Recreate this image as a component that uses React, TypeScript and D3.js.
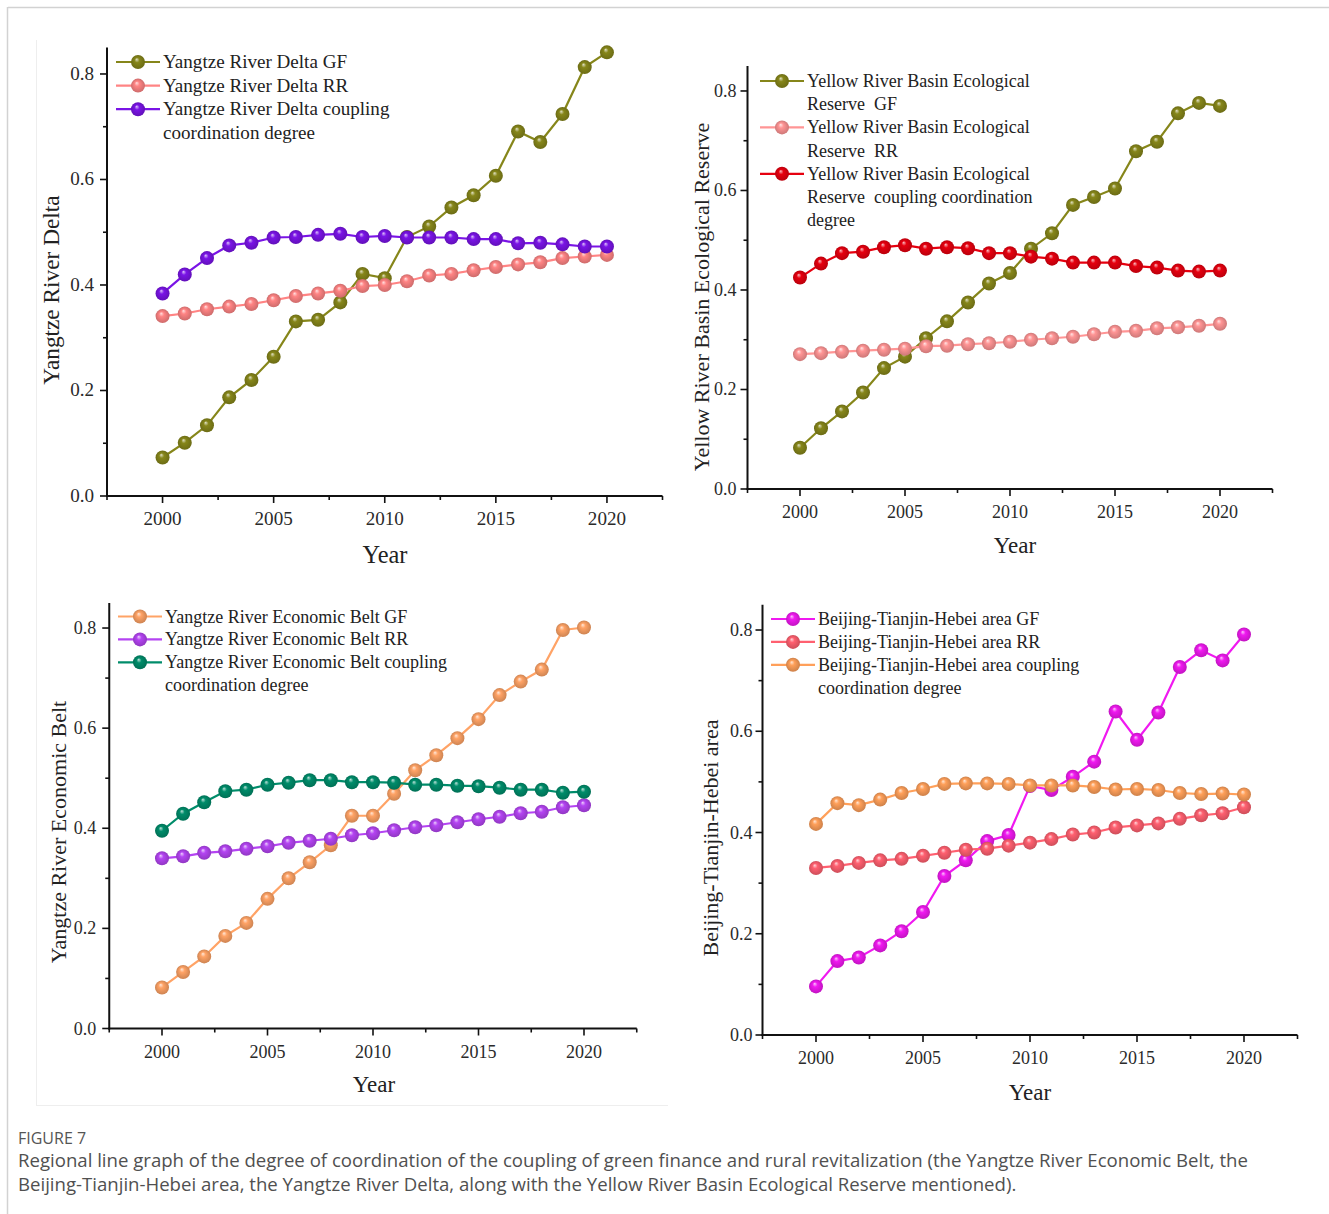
import React from 'react';
import * as d3 from 'd3';

// ---------- DATA ----------
const years = [2000, 2001, 2002, 2003, 2004, 2005, 2006, 2007, 2008, 2009, 2010, 2011, 2012, 2013, 2014, 2015, 2016, 2017, 2018, 2019, 2020];
const xTickValues = [2000, 2005, 2010, 2015, 2020];
const xTickLabels = ['2000', '2005', '2010', '2015', '2020'];
const xMinorValues = [1997.5, 2002.5, 2007.5, 2012.5, 2017.5, 2022.5];
const yTickValues = [0, 0.2, 0.4, 0.6, 0.8];
const yTickLabels = ['0.0', '0.2', '0.4', '0.6', '0.8'];
const yMinorValues = [0.1, 0.3, 0.5, 0.7];

// Yangtze River Delta
const yrdGF = [0.073, 0.101, 0.134, 0.187, 0.220, 0.264, 0.331, 0.334, 0.367, 0.421, 0.413, 0.491, 0.511, 0.547, 0.570, 0.607, 0.691, 0.671, 0.724, 0.813, 0.841];
const yrdRR = [0.341, 0.346, 0.354, 0.359, 0.364, 0.371, 0.379, 0.384, 0.389, 0.398, 0.400, 0.407, 0.418, 0.421, 0.428, 0.434, 0.439, 0.443, 0.451, 0.454, 0.457];
const yrdCCD = [0.384, 0.420, 0.451, 0.475, 0.480, 0.490, 0.491, 0.495, 0.497, 0.491, 0.493, 0.490, 0.490, 0.490, 0.487, 0.487, 0.479, 0.480, 0.477, 0.473, 0.473];

// Yellow River Basin Ecological Reserve
const yrbGF = [0.083, 0.122, 0.156, 0.194, 0.243, 0.266, 0.303, 0.337, 0.375, 0.413, 0.434, 0.483, 0.514, 0.571, 0.587, 0.604, 0.679, 0.698, 0.755, 0.776, 0.770];
const yrbRR = [0.271, 0.273, 0.276, 0.278, 0.280, 0.282, 0.287, 0.288, 0.291, 0.293, 0.296, 0.300, 0.303, 0.306, 0.311, 0.316, 0.318, 0.323, 0.325, 0.328, 0.332];
const yrbCCD = [0.425, 0.453, 0.474, 0.477, 0.486, 0.490, 0.483, 0.486, 0.484, 0.474, 0.474, 0.467, 0.463, 0.455, 0.455, 0.455, 0.448, 0.445, 0.439, 0.437, 0.439];

// Yangtze River Economic Belt
const yebGF = [0.082, 0.113, 0.144, 0.185, 0.211, 0.259, 0.300, 0.332, 0.366, 0.425, 0.425, 0.469, 0.516, 0.546, 0.580, 0.618, 0.666, 0.693, 0.717, 0.796, 0.801];
const yebRR = [0.340, 0.344, 0.351, 0.354, 0.359, 0.364, 0.371, 0.375, 0.379, 0.386, 0.390, 0.396, 0.402, 0.406, 0.412, 0.418, 0.423, 0.430, 0.433, 0.442, 0.446];
const yebCCD = [0.395, 0.429, 0.452, 0.474, 0.477, 0.487, 0.491, 0.496, 0.496, 0.492, 0.492, 0.491, 0.487, 0.487, 0.485, 0.484, 0.481, 0.477, 0.477, 0.471, 0.473];

// Beijing-Tianjin-Hebei area
const bthGF = [0.096, 0.146, 0.153, 0.177, 0.205, 0.243, 0.314, 0.345, 0.383, 0.395, 0.492, 0.484, 0.510, 0.540, 0.639, 0.583, 0.637, 0.727, 0.760, 0.740, 0.791];
const bthRR = [0.330, 0.334, 0.340, 0.345, 0.348, 0.354, 0.360, 0.366, 0.368, 0.374, 0.380, 0.387, 0.396, 0.400, 0.410, 0.414, 0.418, 0.427, 0.434, 0.438, 0.450];
const bthCCD = [0.417, 0.458, 0.454, 0.465, 0.478, 0.486, 0.496, 0.497, 0.497, 0.496, 0.493, 0.493, 0.493, 0.490, 0.485, 0.486, 0.484, 0.478, 0.476, 0.477, 0.475];

const yrdLabels = [['Yangtze River Delta GF'], ['Yangtze River Delta RR'], ['Yangtze River Delta coupling', 'coordination degree']];
const yrbLabels = [['Yellow River Basin Ecological', 'Reserve  GF'], ['Yellow River Basin Ecological', 'Reserve  RR'], ['Yellow River Basin Ecological', 'Reserve  coupling coordination', 'degree']];
const yebLabels = [['Yangtze River Economic Belt GF'], ['Yangtze River Economic Belt RR'], ['Yangtze River Economic Belt coupling', 'coordination degree']];
const bthLabels = [['Beijing-Tianjin-Hebei area GF'], ['Beijing-Tianjin-Hebei area RR'], ['Beijing-Tianjin-Hebei area coupling', 'coordination degree']];

const captionTitle = 'FIGURE 7';
const captionLines = [
  'Regional line graph of the degree of coordination of the coupling of green finance and rural revitalization (the Yangtze River Economic Belt, the',
  'Beijing-Tianjin-Hebei area, the Yangtze River Delta, along with the Yellow River Basin Ecological Reserve mentioned).',
];

// ---------- STYLE ----------
const SERIF = '"Liberation Serif", "Times New Roman", serif';
const SANS = '"Open Sans", "Noto Sans", sans-serif';
const TEXT = '#222';

type Series = { values: number[]; color: string; id: string };
type Layout = {
  left: number; right: number; top: number; bottom: number;
  fs: number; tickGap: number;
  yTitle: string; yTitleX: number; yTitleY: number;
  xTitleX: number; xTitleY: number;
  legX: number; legY: number; legStep: number;
};

function gradId(id: string) { return 'g-' + id; }

function Sphere({ cx, cy, id }: { cx: number; cy: number; id: string }) {
  return <circle cx={cx} cy={cy} r={7} fill={`url(#${gradId(id)})`} />;
}

function Panel({ layout, series, labels }: { layout: Layout; series: Series[]; labels: string[][] }) {
  const x = d3.scaleLinear().domain([1997.5, 2022.5]).range([layout.left, layout.right]);
  const y = d3.scaleLinear().domain([0, 0.85]).range([layout.bottom, layout.top]);
  const line = d3.line<number>().x((_, i) => x(years[i])).y(d => y(d));
  const fs = layout.fs;

  let row = 0;
  const legendItems = labels.map((lines, k) => {
    const cy = layout.legY + row * layout.legStep;
    row += lines.length;
    const s = series[k];
    return (
      <g key={k}>
        <line x1={layout.legX} x2={layout.legX + 44} y1={cy} y2={cy} stroke={s.color} strokeWidth={2.2} />
        <Sphere cx={layout.legX + 22} cy={cy} id={s.id} />
        {lines.map((t, j) => (
          <text key={j} x={layout.legX + 47} y={cy + j * layout.legStep + 6} fontFamily={SERIF} fontSize={18 * fs} fill={TEXT} style={{ whiteSpace: 'pre' }}>{t}</text>
        ))}
      </g>
    );
  });

  return (
    <g>
      {/* axes */}
      <line x1={layout.left} x2={layout.left} y1={layout.top} y2={layout.bottom + 1} stroke="#111" strokeWidth={2} />
      <line x1={layout.left - 1} x2={layout.right} y1={layout.bottom} y2={layout.bottom} stroke="#111" strokeWidth={2} />
      {yTickValues.map((v, i) => (
        <g key={'yt' + i}>
          <line x1={layout.left - 7} x2={layout.left} y1={y(v)} y2={y(v)} stroke="#111" strokeWidth={1.6} />
          <text x={layout.left - layout.tickGap} y={y(v) + 6} textAnchor="end" fontFamily={SERIF} fontSize={18 * fs} fill="#2a2a2a">{yTickLabels[i]}</text>
        </g>
      ))}
      {yMinorValues.map((v, i) => (
        <line key={'ym' + i} x1={layout.left - 4} x2={layout.left} y1={y(v)} y2={y(v)} stroke="#111" strokeWidth={1.6} />
      ))}
      {xTickValues.map((v, i) => (
        <g key={'xt' + i}>
          <line x1={x(v)} x2={x(v)} y1={layout.bottom} y2={layout.bottom + 7} stroke="#111" strokeWidth={1.6} />
          <text x={x(v)} y={layout.bottom + 29} textAnchor="middle" fontFamily={SERIF} fontSize={18 * fs} fill="#2a2a2a">{xTickLabels[i]}</text>
        </g>
      ))}
      {xMinorValues.map((v, i) => (
        <line key={'xm' + i} x1={x(v)} x2={x(v)} y1={layout.bottom} y2={layout.bottom + 4} stroke="#111" strokeWidth={1.6} />
      ))}
      <text x={layout.xTitleX} y={layout.xTitleY + 8} textAnchor="middle" fontFamily={SERIF} fontSize={23 * fs} fill={TEXT}>Year</text>
      <text transform={`translate(${layout.yTitleX + 8},${layout.yTitleY}) rotate(-90)`} textAnchor="middle" fontFamily={SERIF} fontSize={22 * fs} fill={TEXT}>{layout.yTitle}</text>

      {/* series */}
      {series.map(s => (
        <g key={s.id}>
          <path d={line(s.values) || ''} fill="none" stroke={s.color} strokeWidth={2.2} />
          {s.values.map((v, i) => <Sphere key={i} cx={x(years[i])} cy={y(v)} id={s.id} />)}
        </g>
      ))}

      {legendItems}
    </g>
  );
}

const colorDefs: { id: string; color: string }[] = [
  { id: 'olive', color: '#86861a' },
  { id: 'pink', color: '#ff8484' },
  { id: 'purple', color: '#7a14e6' },
  { id: 'lpink', color: '#ff9595' },
  { id: 'red', color: '#e6000f' },
  { id: 'orange', color: '#ffa366' },
  { id: 'violet', color: '#b444f2' },
  { id: 'green', color: '#008c6a' },
  { id: 'magenta', color: '#f019f0' },
  { id: 'salmon', color: '#ff6070' },
  { id: 'orange2', color: '#ffa05a' },
];

function Gradients() {
  return (
    <defs>
      {colorDefs.map(c => {
        const base = d3.color(c.color)!;
        const light = d3.interpolateRgb(c.color, '#ffffff')(0.75);
        const dark = base.darker(0.6).toString();
        return (
          <radialGradient key={c.id} id={gradId(c.id)} cx="0.5" cy="0.5" r="0.5" fx="0.4" fy="0.3">
            <stop offset="0%" stopColor={light} />
            <stop offset="35%" stopColor={c.color} />
            <stop offset="100%" stopColor={dark} />
          </radialGradient>
        );
      })}
    </defs>
  );
}

const lineColor: Record<string, string> = Object.fromEntries(colorDefs.map(c => [c.id, c.color]));

export default function App() {
  const p1: Layout = {
    left: 107, right: 662.5, top: 47.6, bottom: 496, fs: 1.06, tickGap: 13,
    yTitle: 'Yangtze River Delta', yTitleX: 51, yTitleY: 290,
    xTitleX: 385, xTitleY: 555,
    legX: 116, legY: 62, legStep: 23.6,
  };
  const p2: Layout = {
    left: 747.5, right: 1272.5, top: 66.1, bottom: 489, fs: 1, tickGap: 11,
    yTitle: 'Yellow River Basin Ecological Reserve', yTitleX: 701, yTitleY: 297,
    xTitleX: 1015, xTitleY: 545,
    legX: 760, legY: 81, legStep: 23.2,
  };
  const p3: Layout = {
    left: 109.25, right: 636.75, top: 603, bottom: 1028.5, fs: 1, tickGap: 13,
    yTitle: 'Yangtze River Economic Belt', yTitleX: 58, yTitleY: 832,
    xTitleX: 374, xTitleY: 1084,
    legX: 118, legY: 616.5, legStep: 22.9,
  };
  const p4: Layout = {
    left: 762.5, right: 1297.5, top: 604.7, bottom: 1035, fs: 1, tickGap: 10,
    yTitle: 'Beijing-Tianjin-Hebei area', yTitleX: 710, yTitleY: 838,
    xTitleX: 1030, xTitleY: 1092,
    legX: 771, legY: 619, legStep: 22.9,
  };

  const mk = (values: number[], id: string): Series => ({ values, id, color: lineColor[id] });

  return (
    <svg width={1329} height={1214} style={{ position: 'absolute', left: 0, top: 0, background: '#fff' }}>
      <Gradients />
      <rect x={0} y={0} width={1329} height={1214} fill="#fff" />
      <line x1={8} x2={1329} y1={7.5} y2={7.5} stroke="#d2d2d2" strokeWidth={1.5} />
      <line x1={7.5} x2={7.5} y1={7} y2={1214} stroke="#d2d2d2" strokeWidth={1.5} />
      <line x1={36.5} x2={36.5} y1={40} y2={1106} stroke="#eeeeee" strokeWidth={1} />
      <line x1={36} x2={668} y1={1105.5} y2={1105.5} stroke="#eeeeee" strokeWidth={1} />

      <Panel layout={p1} labels={yrdLabels} series={[mk(yrdGF, 'olive'), mk(yrdRR, 'pink'), mk(yrdCCD, 'purple')]} />
      <Panel layout={p2} labels={yrbLabels} series={[mk(yrbGF, 'olive'), mk(yrbRR, 'lpink'), mk(yrbCCD, 'red')]} />
      <Panel layout={p3} labels={yebLabels} series={[mk(yebGF, 'orange'), mk(yebRR, 'violet'), mk(yebCCD, 'green')]} />
      <Panel layout={p4} labels={bthLabels} series={[mk(bthGF, 'magenta'), mk(bthRR, 'salmon'), mk(bthCCD, 'orange2')]} />

      <text x={18} y={1144} fontFamily={SANS} fontSize={16} fill="#555">{captionTitle}</text>
      {captionLines.map((t, i) => (
        <text key={i} x={18} y={1167 + i * 23.5} fontFamily={SANS} fontSize={18.6} fill="#505050">{t}</text>
      ))}
    </svg>
  );
}
